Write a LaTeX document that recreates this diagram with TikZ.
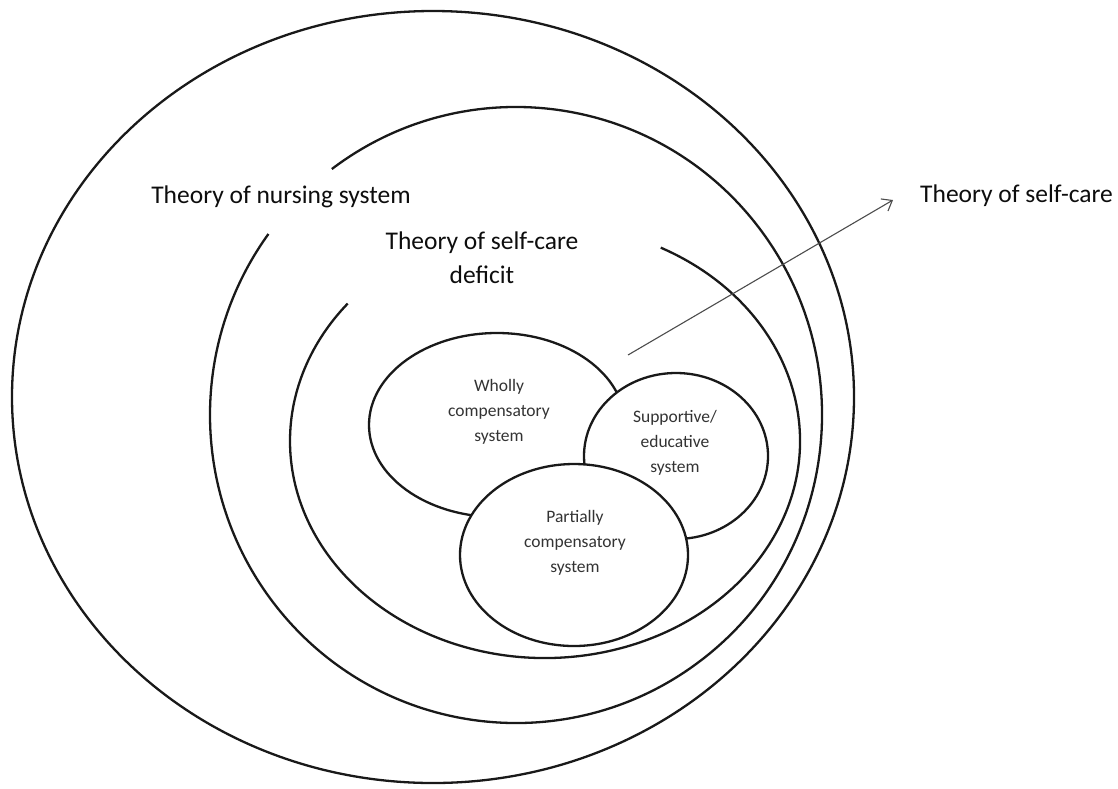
\documentclass[tikz,border=0pt]{standalone}
\usepackage{fontspec}
\setmainfont{Carlito}
\usetikzlibrary{shapes.geometric,arrows.meta}
\begin{document}
\begin{tikzpicture}[x=1pt,y=-1pt,
  ring/.style={line width=2.3pt, draw=black!90},
  blob/.style={ellipse, draw=black!90, line width=2.3pt, fill=white, inner sep=0pt},
  small/.style={font=\fontsize{17.5}{25}\selectfont, align=center, text=black!80, inner sep=0pt},
  big/.style={font=\fontsize{25.5}{34}\selectfont, align=center, text=black!95, inner sep=0pt},
  pointer/.style={-{Straight Barb[length=9pt,width=14pt]}, line width=1.1pt, draw=black!70}]
\useasboundingbox (0,0) rectangle (1118,788);
% outer closed ring
\draw[ring] (433,397) ellipse [x radius=421, y radius=386];
% middle open ring
\draw[ring] ([shift={(516,415)}]233:306 and 308) arc[start angle=233, end angle=576, x radius=306, y radius=308];
% inner open ring
\draw[ring] ([shift={(545,441)}]-63:255 and 217) arc[start angle=-63, end angle=219.3, x radius=255, y radius=217];
% labels
\node[big] (ns) at (281,197) {Theory of nursing system};
\node[big] (scd) at (482,258) {Theory of self-care\\deficit};
\node[big, anchor=west] (sc) at (920,196) {Theory of self-care};
% arrow
\coordinate (as) at (628,355);
\coordinate (ae) at (893,200);
\draw[pointer] (as) -- (ae);
% systems
\node[blob, minimum width=256pt, minimum height=184pt] (wh) at (497,425) {};
\node[blob, minimum width=184pt, minimum height=166pt] (su) at (676,456) {};
\node[blob, minimum width=228pt, minimum height=182pt] (pa) at (574,555) {};
\node[small] (whT) at (499,412) {Wholly\\compensatory\\system};
\node[small] (suT) at (675,443) {Supportive/\\educative\\system};
\node[small] (paT) at (575,543) {Partially\\compensatory\\system};
\end{tikzpicture}
\end{document}
